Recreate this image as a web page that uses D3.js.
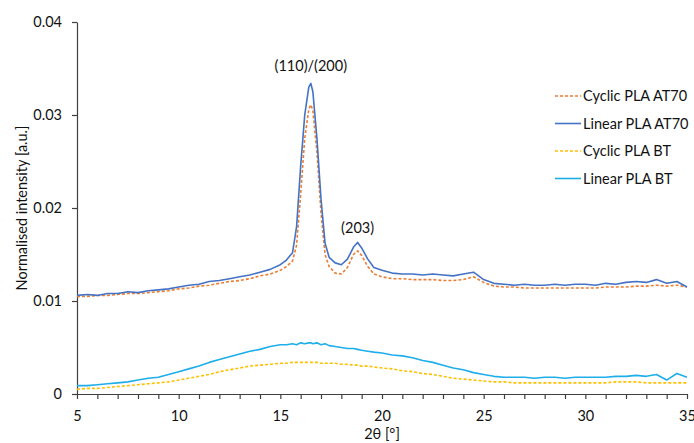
<!DOCTYPE html>
<html>
<head>
<meta charset="utf-8">
<script src="https://cdn.jsdelivr.net/npm/d3@7"></script>
<style>
  body { margin: 0; background: #fff; }
  svg text { font-family: Lato, "Open Sans", sans-serif; fill: #111; }
</style>
</head>
<body>
<div id="chart"></div>
<script>
// Données
const twoTheta = [5, 5.5, 6, 6.5, 7, 7.5, 8, 8.5, 9, 9.5, 10, 10.5, 11, 11.5, 12, 12.5, 13, 13.5, 14, 14.5, 15,
  15.3, 15.6, 15.8, 16.0, 16.2, 16.4, 16.5, 16.6, 16.8, 17.0, 17.2, 17.4, 17.7, 18.0, 18.3, 18.6, 18.8, 19.0, 19.3, 19.6, 20.0,
  20.5, 21, 21.5, 22, 22.5, 23, 23.5, 24, 24.5, 25, 25.5, 26, 26.5, 27, 27.5, 28, 28.5, 29, 29.5, 30,
  30.5, 31, 31.5, 32, 32.5, 33, 33.5, 34, 34.5, 35];

const cyclicAT70 = [.0105, .0105, .0106, .0106, .0107, .0108, .0108, .0109, .0110, .0111, .0113, .0114, .0116, .0117, .0119, .0121, .0122, .0124, .0127, .0129, .0133,
  .0137, .0143, .0160, .0215, .0275, .0306, .0311, .0305, .0260, .0195, .0150, .0137, .0130, .0129, .0136, .0150, .0154, .0149, .0137, .0129, .0126,
  .0124, .0124, .0123, .0123, .0123, .0122, .0122, .0123, .0126, .0120, .0116, .0115, .0115, .0114, .0114, .0114, .0114, .0114, .0114, .0114,
  .0114, .0115, .0115, .0115, .0116, .0116, .0117, .0116, .0117, .0115];

const linearAT70 = [.0106, .0107, .0106, .0108, .0108, .0110, .0109, .0111, .0112, .0113, .0115, .0117, .0118, .0121, .0122, .0124, .0126, .0128, .0131, .0134, .0139,
  .0144, .0152, .0180, .0245, .0300, .0330, .0334, .0325, .0275, .0210, .0162, .0147, .0141, .0139, .0145, .0158, .0163, .0157, .0145, .0136, .0133,
  .0130, .0129, .0129, .0128, .0129, .0128, .0127, .0129, .0131, .0123, .0119, .0118, .0117, .0118, .0117, .0117, .0118, .0117, .0118, .0118,
  .0117, .0119, .0118, .0120, .0121, .0120, .0123, .0119, .0121, .0115];

const cyclicBT = [.0005, .0006, .0006, .0007, .0008, .0009, .0010, .0011, .0012, .0013, .0015, .0017, .0019, .0021, .0024, .0026, .0028, .0030, .0031, .0032, .0033,
  .0033, .0034, .0034, .0034, .0034, .0034, .0034, .0034, .0034, .0033, .0033, .0033, .0033, .0032, .0032, .0031, .0031, .0030, .0030, .0029, .0028,
  .0027, .0025, .0024, .0022, .0021, .0019, .0017, .0016, .0015, .0014, .0013, .0013, .0012, .0012, .0012, .0012, .0012, .0012, .0012, .0012,
  .0012, .0012, .0013, .0013, .0013, .0012, .0012, .0012, .0012, .0012];

const linearBT = [.0009, .0009, .0010, .0011, .0012, .0013, .0015, .0017, .0018, .0021, .0024, .0027, .0030, .0034, .0037, .0040, .0043, .0046, .0048, .0051, .0053,
  .0053, .0054, .0053, .0055, .0054, .0055, .0055, .0054, .0055, .0053, .0054, .0052, .0051, .0050, .0049, .0049, .0048, .0047, .0046, .0045, .0044,
  .0042, .0041, .0039, .0036, .0034, .0031, .0028, .0026, .0023, .0021, .0019, .0018, .0018, .0018, .0017, .0018, .0018, .0017, .0018, .0018,
  .0018, .0018, .0019, .0019, .0020, .0019, .0021, .0015, .0022, .0018];

const seriesNames = ["Cyclic PLA AT70", "Linear PLA AT70", "Cyclic PLA BT", "Linear PLA BT"];
const seriesValues = [cyclicAT70, linearAT70, cyclicBT, linearBT];
const seriesColors = ["#ED7D31", "#4472C4", "#FFC000", "#1EAEEA"];
const seriesDashed = [true, false, true, false];

const xTickLabels = [5, 10, 15, 20, 25, 30, 35];
const yTickLabels = [0, 0.01, 0.02, 0.03, 0.04];
const peakLabels = [{label: "(110)/(200)", x: 16.5, y: 0.0347}, {label: "(203)", x: 18.8, y: 0.0173}];

// Constantes
const margin = {top: 22, right: 7, bottom: 49, left: 77},
    width = 694 - margin.left - margin.right,
    height = 443 - margin.top - margin.bottom;

const svg = d3.select('#chart')
    .append('svg')
    .attr("width", width + margin.left + margin.right)
    .attr("height", height + margin.top + margin.bottom)
    .append("g")
    .attr("transform", "translate(" + margin.left + "," + margin.top + ")");

const x = d3.scaleLinear().domain([5, 35]).range([0, width]);
const y = d3.scaleLinear().domain([0, 0.04]).range([height, 0]);

// Axes
const xAxis = svg.append("g")
    .attr("transform", "translate(0," + height + ")")
    .call(d3.axisBottom(x).tickValues(d3.range(5, 36, 1)).tickSize(5).tickSizeOuter(0)
        .tickFormat(d => xTickLabels.includes(d) ? d : ""));
const yAxis = svg.append("g")
    .call(d3.axisLeft(y).tickValues(yTickLabels).tickSize(5).tickSizeOuter(0)
        .tickFormat(d => d === 0 ? "0" : d3.format(".2f")(d)));

[xAxis, yAxis].forEach(a => {
    a.selectAll("path, line").attr("stroke", "#404040").attr("stroke-width", 1.2);
    a.selectAll("text").style("font-size", "14.5px").attr("fill", "#111");
});
xAxis.selectAll("text").attr("dy", "1.3em");
yAxis.selectAll("text").attr("dx", "-7px");

// Titres des axes
svg.append("text")
    .attr("x", width / 2)
    .attr("y", height + 45)
    .attr("text-anchor", "middle")
    .style("font-size", "14.5px")
    .text("2θ [°]");

svg.append("text")
    .attr("transform", "rotate(-90)")
    .attr("x", -height / 2)
    .attr("y", -50)
    .attr("text-anchor", "middle")
    .style("font-size", "14.5px")
    .text("Normalised intensity [a.u.]");

// Courbes
const line = d3.line()
    .x((d, i) => x(twoTheta[i]))
    .y(d => y(d));

seriesValues.forEach((vals, k) => {
    svg.append("path")
        .datum(vals)
        .attr("fill", "none")
        .attr("stroke", seriesColors[k])
        .attr("stroke-width", 1.6)
        .attr("stroke-dasharray", seriesDashed[k] ? "3,2" : null)
        .attr("stroke-linejoin", "round")
        .attr("d", line);
});

// Indices des pics
svg.selectAll(".peak")
    .data(peakLabels)
    .enter().append("text")
    .attr("class", "peak")
    .attr("x", d => x(d.x))
    .attr("y", d => y(d.y))
    .attr("text-anchor", "middle")
    .style("font-size", "14.5px")
    .text(d => d.label);

// Légende
const legend = svg.append("g").attr("transform", "translate(478,74)");
seriesNames.forEach((name, k) => {
    const g = legend.append("g").attr("transform", "translate(0," + (k * 27.5) + ")");
    g.append("line")
        .attr("x1", 0).attr("x2", 26)
        .attr("stroke", seriesColors[k])
        .attr("stroke-width", 1.6)
        .attr("stroke-dasharray", seriesDashed[k] ? "3,2" : null);
    g.append("text")
        .attr("x", 28)
        .attr("dy", "0.35em")
        .style("font-size", "14.5px")
        .text(name);
});
</script>
</body>
</html>
